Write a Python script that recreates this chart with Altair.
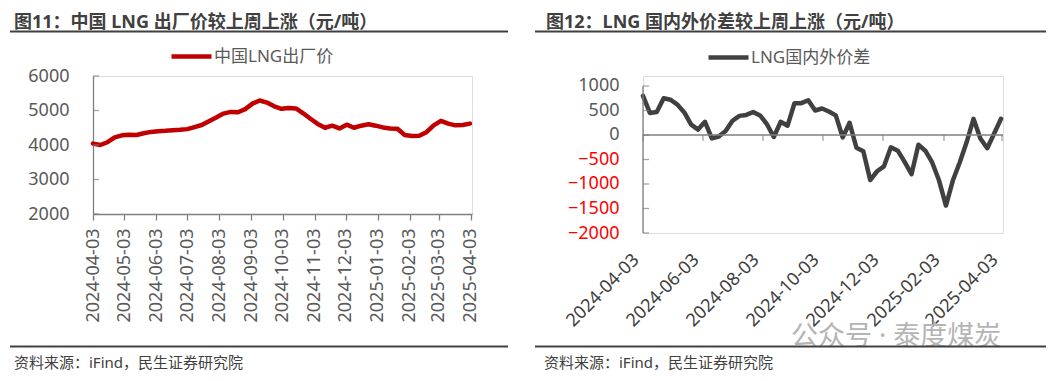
import altair as alt
import pandas as pd

FONT = "Noto Sans, Noto Sans CJK SC"
AX = "#7f7f7f"
LABEL = "#595959"
DARK = "#404040"

# ---------------- data ----------------
week_dates = pd.date_range("2024-04-03", periods=53, freq="7D").strftime("%Y-%m-%d").tolist()

left_name = "中国LNG出厂价"
left_values = [4040, 4000, 4080, 4220, 4280, 4300, 4290, 4340, 4380, 4400,
               4410, 4430, 4440, 4460, 4520, 4580, 4690, 4800, 4910, 4960,
               4950, 5040, 5200, 5290, 5230, 5120, 5050, 5070, 5060, 4920,
               4760, 4610, 4500, 4560, 4480, 4590, 4500, 4560, 4600, 4560,
               4510, 4480, 4470, 4290, 4260, 4270, 4370, 4570, 4700, 4620,
               4570, 4580, 4620]

right_name = "LNG国内外价差"
right_values = [800, 450, 470, 750, 720, 620, 460, 210, 110, 270,
                -70, -30, 80, 290, 390, 410, 470, 400, 220, -40,
                270, 190, 650, 650, 710, 500, 540, 480, 400, -50,
                250, -260, -330, -920, -740, -640, -250, -320, -550, -800,
                -200, -320, -560, -930, -1440, -930, -560, -150, 330, -70,
                -270, 30, 330]

left_ticks = ["2024-04-03", "2024-05-03", "2024-06-03", "2024-07-03", "2024-08-03",
              "2024-09-03", "2024-10-03", "2024-11-03", "2024-12-03", "2025-01-03",
              "2025-02-03", "2025-03-03", "2025-04-03"]
right_ticks = ["2024-04-03", "2024-06-03", "2024-08-03", "2024-10-03", "2024-12-03",
               "2025-02-03", "2025-04-03"]
left_yticks = [2000, 3000, 4000, 5000, 6000]
right_yticks = [-2000, -1500, -1000, -500, 0, 500, 1000]

left_title = "图11：中国 LNG 出厂价较上周上涨（元/吨）"
right_title = "图12：LNG 国内外价差较上周上涨（元/吨）"
source_text = "资料来源：iFind，民生证券研究院"
watermark = "公众号 · 泰度煤炭"

x_start, x_end = "2024-04-03", "2025-04-04"


def dt(s):
    y, m, d = map(int, s.split("-"))
    return alt.DateTime(year=y, month=m, date=d, utc=True)


def one(text):
    return pd.DataFrame({"t": [text]})


def panel_decor(title, tx, rx1, rx2, sx):
    bound = alt.Chart(one("b")).mark_point(opacity=0, size=1).encode(
        x=alt.value(0), y=alt.value(-67))
    title_t = alt.Chart(one(title)).mark_text(
        align="left", baseline="middle", fontSize=18, fontWeight="bold", color=DARK, font=FONT
    ).encode(x=alt.value(tx), y=alt.value(-53), text="t:N")
    top_rule = alt.Chart(one("r")).mark_rule(color=DARK, strokeWidth=2.2).encode(
        x=alt.value(rx1), x2=alt.value(rx2), y=alt.value(-44.5))
    bot_rule = alt.Chart(one("r")).mark_rule(color=DARK, strokeWidth=2.2).encode(
        x=alt.value(rx1), x2=alt.value(rx2), y=alt.value(270.5))
    src = alt.Chart(one(source_text)).mark_text(
        align="left", baseline="middle", fontSize=15, color=DARK, font=FONT
    ).encode(x=alt.value(sx), y=alt.value(287), text="t:N")
    return [bound, title_t, top_rule, bot_rule, src]


# ---------------- left panel ----------------
left_df = pd.DataFrame({"date": week_dates, "value": left_values, "series": left_name})
lx_scale = alt.Scale(type="utc", domain=[dt(x_start), dt(x_end)], nice=False)
ly_scale = alt.Scale(domain=[2000, 6000], nice=False, zero=False)
lx_axis = alt.Axis(values=[dt(s) for s in left_ticks], format="%Y-%m-%d",
                   labelAngle=270, labelAlign="right", labelBaseline="middle",
                   labelPadding=8, labelFontSize=18, labelColor=LABEL, labelFont=FONT,
                   labelFlush=False, labelOverlap=False, tickSize=6, tickColor=AX,
                   domainColor=AX, domainWidth=1.3, tickWidth=1.3, grid=False, title=None)
ly_axis = alt.Axis(values=left_yticks, format="d", ticks=False, tickSize=0,
                   domainColor=AX, domainWidth=1.3, labelPadding=24, labelFontSize=18,
                   labelColor=LABEL, labelFont=FONT, grid=False, title=None)

left_line = alt.Chart(left_df).mark_line(strokeWidth=4.5, strokeCap="round", strokeJoin="round").encode(
    x=alt.X("date:T", scale=lx_scale, axis=lx_axis),
    y=alt.Y("value:Q", scale=ly_scale, axis=ly_axis),
    color=alt.Color("series:N", scale=alt.Scale(domain=[left_name], range=["#C00000"]),
                    legend=alt.Legend(orient="none", legendX=76, legendY=-42, title=None,
                                      symbolType="stroke", symbolSize=1600, symbolStrokeWidth=4.5,
                                      labelFontSize=17, labelColor=LABEL, labelFont=FONT,
                                      padding=0, labelOffset=0)),
)

left_ytick_df = pd.DataFrame({"date": [x_start] * len(left_yticks), "v": left_yticks})
left_yt = alt.Chart(left_ytick_df).mark_tick(orient="horizontal", size=6, thickness=1.3,
                                             xOffset=3, color=AX).encode(
    x=alt.X("date:T", scale=lx_scale, axis=lx_axis),
    y=alt.Y("v:Q", scale=ly_scale, axis=ly_axis))

left = alt.layer(left_line, left_yt, *panel_decor(left_title, -79, -83, 415, -79)).properties(
    width=379, height=138)

# ---------------- right panel ----------------
right_df = pd.DataFrame({"date": week_dates, "value": right_values, "series": right_name})
rx_scale = alt.Scale(type="utc", domain=[dt(x_start), dt(x_end)], nice=False)
ry_scale = alt.Scale(domain=[-2000, 1204], nice=False, zero=False)
rx_axis = alt.Axis(values=[dt(s) for s in right_ticks], format="%Y-%m-%d",
                   labelAngle=315, labelAlign="right", labelBaseline="middle",
                   labelPadding=24, labelOffset=-7, labelFontSize=18, labelColor=DARK,
                   labelFont=FONT, labelFlush=False, labelOverlap=False, ticks=False,
                   tickSize=0, domain=False, grid=False, title=None)
ry_axis = alt.Axis(values=right_yticks, format="d", ticks=False, tickSize=0, domain=False,
                   labelPadding=24, labelFontSize=18,
                   labelColor=alt.expr("datum.value < 0 ? '#FF0000' : '#595959'"),
                   labelFont=FONT, grid=False, title=None)

right_line = alt.Chart(right_df).mark_line(strokeWidth=4.5, strokeCap="round", strokeJoin="round").encode(
    x=alt.X("date:T", scale=rx_scale, axis=rx_axis),
    y=alt.Y("value:Q", scale=ry_scale, axis=ry_axis),
    color=alt.Color("series:N", scale=alt.Scale(domain=[right_name], range=[DARK]),
                    legend=alt.Legend(orient="none", legendX=63, legendY=-41, title=None,
                                      symbolType="stroke", symbolSize=1600, symbolStrokeWidth=4.5,
                                      labelFontSize=17, labelColor=LABEL, labelFont=FONT,
                                      padding=0, labelOffset=0)),
)

zero_line = alt.Chart(one("z")).mark_rule(color=AX, strokeWidth=1.5).encode(
    y=alt.Y("z:Q", scale=ry_scale, axis=ry_axis)).transform_calculate(z="0")

right_xtick_df = pd.DataFrame({"date": right_ticks, "v": [0] * len(right_ticks)})
right_xt = alt.Chart(right_xtick_df).mark_tick(orient="vertical", size=6, thickness=1.3,
                                               yOffset=3, color=AX).encode(
    x=alt.X("date:T", scale=rx_scale, axis=rx_axis),
    y=alt.Y("v:Q", scale=ry_scale, axis=ry_axis))

right_axis_df = pd.DataFrame({"date": [x_start], "lo": [-2000], "hi": [1000]})
right_yaxis = alt.Chart(right_axis_df).mark_rule(color=AX, strokeWidth=1.3).encode(
    x=alt.X("date:T", scale=rx_scale, axis=rx_axis),
    y=alt.Y("lo:Q", scale=ry_scale, axis=ry_axis), y2="hi:Q")

right_ytick_df = pd.DataFrame({"date": [x_start] * len(right_yticks), "v": right_yticks})
right_yt = alt.Chart(right_ytick_df).mark_tick(orient="horizontal", size=6, thickness=1.3,
                                               xOffset=3, color=AX).encode(
    x=alt.X("date:T", scale=rx_scale, axis=rx_axis),
    y=alt.Y("v:Q", scale=ry_scale, axis=ry_axis))

wm = alt.Chart(one(watermark)).mark_text(
    align="left", baseline="middle", fontSize=27, color="#b4b4b4", font=FONT
).encode(x=alt.value(148), y=alt.value(261), text="t:N")

right = alt.layer(right_line, zero_line, right_xt, right_yaxis, right_yt, wm,
                  *panel_decor(right_title, -97, -108, 403, -99)).properties(width=360, height=157)

chart = alt.hconcat(left, right, spacing=23).resolve_scale(color="independent").properties(
    padding=0).configure_view(stroke=None).configure(font=FONT)

chart.save("out.html", embed_options={"renderer": "svg", "actions": False})
